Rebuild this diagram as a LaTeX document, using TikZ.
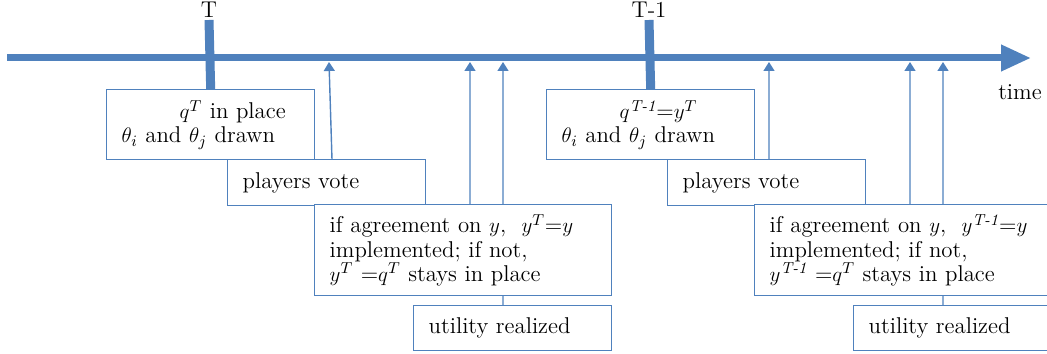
\documentclass[tikz,border=0pt]{standalone}
\usepackage{amsmath}
\usepackage{tikz}
\usetikzlibrary{positioning}
\usetikzlibrary{arrows.meta, backgrounds}
\definecolor{lineblue}{RGB}{79,129,189}

\begin{document}
\begin{tikzpicture}[x=0.02cm,y=-0.02cm,
  evbox/.style={draw=lineblue,line width=0.8pt,fill=white,rectangle,anchor=north west,align=left,inner xsep=0.3cm,font=\fontsize{13}{13.8}\selectfont},
  upline/.style={draw=lineblue,line width=0.8pt,-{Triangle[length=0.18cm,width=0.22cm]}},
  tick/.style={draw=lineblue,line width=0.18cm},
  ticklab/.style={font=\fontsize{13}{16}\selectfont,anchor=south,inner sep=1pt}]
\clip (0,0) rectangle (1047,354);

% time axis
\coordinate (start) at (7,58);
\coordinate (end) at (1031,58);
\draw[lineblue,line width=0.14cm,-{Triangle[length=0.6cm,width=0.5cm]}] (start) -- (end);
\node[font=\fontsize{13}{16}\selectfont] (tm) at (1020,92) {time};

% period T
\node[evbox,text width=3.56cm,minimum height=1.4cm] (qa) at (106,89) {\hspace*{1.16cm}$q^{T}$ in place\\$\theta_i$ and $\theta_j$ drawn};
\node[evbox,text width=3.36cm,minimum height=0.92cm] (va) at (227,159) {players vote};
\node[evbox,text width=5.34cm,minimum height=1.82cm] (aa) at (314,204) {if~agreement~on~$y$,~~$y^{T}$=$y$\\implemented; if not,\\$y^{T}$~=$q^{T}$~stays~in~place};
\node[evbox,text width=3.36cm,minimum height=0.9cm] (ua) at (413,305) {utility realized};
\coordinate (tA) at (209,20);
\node[ticklab] (labA) at (tA) {T};
\coordinate (a1) at (329,62);
\coordinate (a2) at (470,62);
\coordinate (a3) at (503,62);

% period T-1
\node[evbox,text width=3.56cm,minimum height=1.4cm] (qb) at (546,89) {\hspace*{1.16cm}$q^{\textit{T-1}}$=$y^{T}$\\$\theta_i$ and $\theta_j$ drawn};
\node[evbox,text width=3.36cm,minimum height=0.92cm] (vb) at (667,159) {players vote};
\node[evbox,text width=5.34cm,minimum height=1.82cm] (ab) at (754,204) {if~agreement~on~$y$,~~$y^{\textit{T-1}}$=$y$\\implemented; if not,\\$y^{\textit{T-1}}$~=$q^{T}$~stays~in~place};
\node[evbox,text width=3.36cm,minimum height=0.9cm] (ub) at (853,305) {utility realized};
\coordinate (tB) at (649,20);
\node[ticklab] (labB) at (tB) {T-1};
\coordinate (b1) at (769,62);
\coordinate (b2) at (910,62);
\coordinate (b3) at (943,62);

\begin{scope}[on background layer]
\draw[tick] (tA) -- (qa.north);
\draw[tick] (tB) -- (qb.north);
\draw[upline] ([xshift=2.1cm]va.north west) -- (a1);
\draw[upline] ([xshift=3.12cm]aa.north west) -- (a2);
\draw[upline] ([xshift=1.8cm]ua.north west) -- (a3);
\draw[upline] ([xshift=2.04cm]vb.north west) -- (b1);
\draw[upline] ([xshift=3.12cm]ab.north west) -- (b2);
\draw[upline] ([xshift=1.8cm]ub.north west) -- (b3);
\end{scope}
\end{tikzpicture}
\end{document}
